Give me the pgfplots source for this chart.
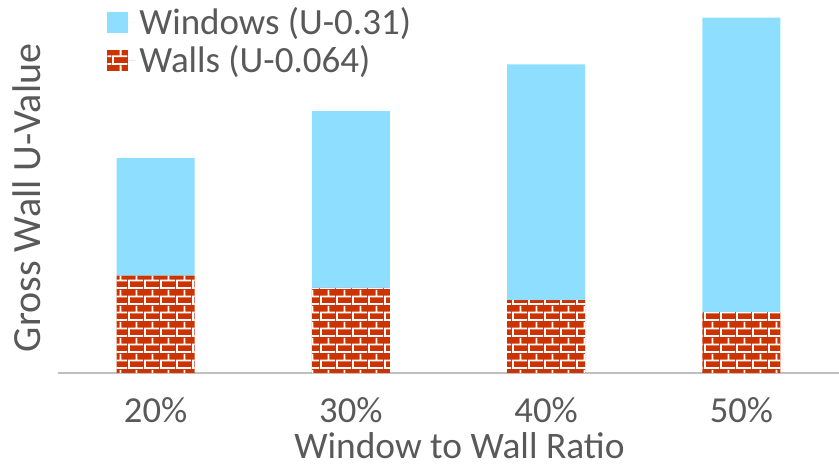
\documentclass[border=0pt]{standalone}
\usepackage{fontspec}
\setmainfont{Carlito}
\usepackage{pgfplots}
\pgfplotsset{compat=1.18}
\usetikzlibrary{patterns}

\definecolor{textgray}{HTML}{595959}
\definecolor{winblue}{HTML}{8DDEFF}
\definecolor{brickred}{HTML}{CC3300}
\definecolor{basegray}{HTML}{BFBFBF}

% brick wall: 8pt x 4pt bricks with 1pt mortar joints
\pgfdeclarepatternformonly{smallbricks}{\pgfqpoint{0pt}{0pt}}{\pgfqpoint{8pt}{8pt}}{\pgfqpoint{8pt}{8pt}}{%
  \pgfpathrectangle{\pgfqpoint{0pt}{0pt}}{\pgfqpoint{8pt}{1pt}}%
  \pgfpathrectangle{\pgfqpoint{0pt}{4pt}}{\pgfqpoint{8pt}{1pt}}%
  \pgfpathrectangle{\pgfqpoint{0pt}{1pt}}{\pgfqpoint{1pt}{3pt}}%
  \pgfpathrectangle{\pgfqpoint{4pt}{5pt}}{\pgfqpoint{1pt}{3pt}}%
  \pgfusepath{fill}}

% small square legend swatch, with some room before the text
\pgfplotsset{squarelegend/.style={
  legend image code/.code={%
    \fill[##1] (0pt,-5.25pt) rectangle (10.5pt,5.25pt);
    \path (0pt,0pt) -- (14pt,0pt);}}}

% area-weighted U-value contributions per window-to-wall ratio
\pgfplotstableread{
x  walls   windows
0  0.0512  0.062
1  0.0448  0.093
2  0.0384  0.124
3  0.0320  0.155
}\uvalues

\begin{document}
\begin{tikzpicture}
\path[use as bounding box] (0pt,0pt) rectangle (419.5pt,232.5pt);
\begin{axis}[
  at={(29pt,46pt)}, anchor=south west,
  scale only axis,
  width=390.5pt, height=180.5pt,
  ybar stacked,
  bar width=39pt,
  xmin=-0.5, xmax=3.5,
  ymin=0, ymax=0.19,
  xtick={0,1,2,3},
  xticklabels={20\%,30\%,40\%,50\%},
  ytick=\empty,
  major tick length=0pt,
  axis line style={draw=none},
  clip=false,
  /pgf/number format/assume math mode=true,
  tick label style={font=\fontsize{18.3}{22}\selectfont, text=textgray},
  xticklabel style={anchor=base, yshift=-24.5pt},
  label style={text=textgray},
  xlabel={Window to Wall Ratio},
  ylabel={Gross Wall U-Value},
  xlabel style={font=\fontsize{18.7}{22}\selectfont,
    at={(axis description cs:0.514,-0.2355)}, anchor=base},
  ylabel style={font=\fontsize{20}{24}\selectfont,
    at={(axis description cs:-0.023,0.485)}, anchor=base},
  reverse legend,
  legend cell align=left,
  legend style={
    at={(0.055,1.035)}, anchor=north west,
    draw=none, fill=none,
    font=\fontsize{18.5}{21}\selectfont, text=textgray,
    row sep=0pt,
  },
]
\addplot[fill=brickred, draw=none,
  postaction={pattern=smallbricks, pattern color=white}, squarelegend]
  table[x=x, y=walls] {\uvalues};
\addlegendentry{Walls (U-0.064)}
\addplot[fill=winblue, draw=none, squarelegend]
  table[x=x, y=windows] {\uvalues};
\addlegendentry{Windows (U-0.31)}
\draw[basegray, line width=1pt] (rel axis cs:0,0) -- (rel axis cs:1,0);
\end{axis}
\end{tikzpicture}
\end{document}
